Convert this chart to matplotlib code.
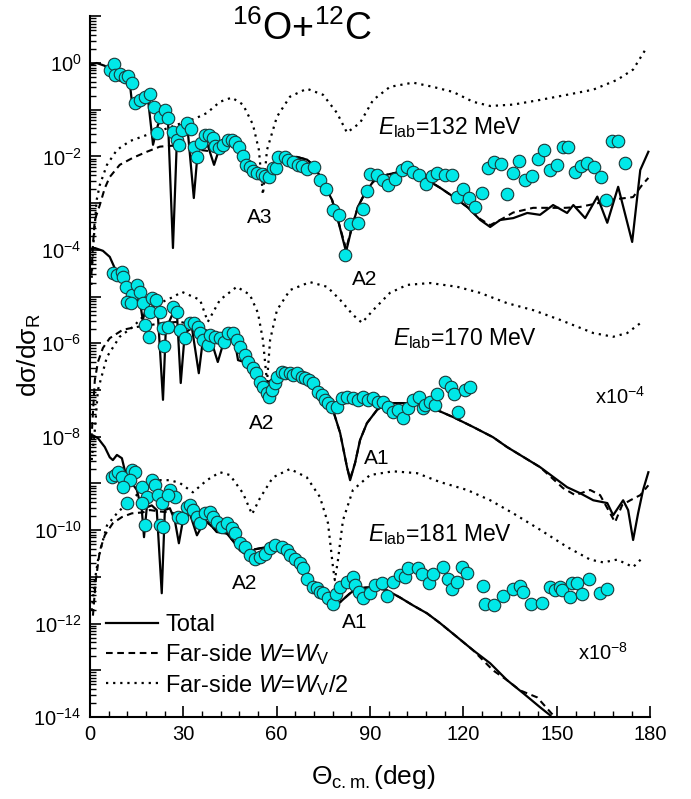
import numpy as np
import matplotlib
matplotlib.use('Agg')
import matplotlib.pyplot as plt
import matplotlib.ticker as mticker
import matplotlib.lines as mlines

plt.rcParams['font.family'] = ['Liberation Sans', 'DejaVu Sans']
plt.rcParams['mathtext.fontset'] = 'custom'
plt.rcParams['mathtext.rm'] = 'Liberation Sans'
plt.rcParams['mathtext.it'] = 'Liberation Sans:italic'
plt.rcParams['mathtext.bf'] = 'Liberation Sans:bold'

# all curves/points: theta (deg) and log10(dsigma/dsigma_R), before the x10^-4 / x10^-8 shift
# ---- E_lab = 132 MeV ----
th_tot_132 = [0.0, 2.2, 4.8, 9.0, 12.9, 13.5, 14.5, 16.1, 18.6, 20.3,
              21.9, 23.5, 25.1, 26.7, 28.0, 31.2, 33.4, 34.7, 37.0, 39.9,
              41.8, 44.4, 46.0, 49.2, 53.7, 55.3, 57.9, 61.1, 66.5, 69.8,
              72.3, 74.9, 77.8, 79.7, 82.3, 84.2, 86.1, 88.4, 91.0, 95.5,
              99.6, 103.8, 108.3, 112.5, 116.7, 121.2, 125.4, 128.6, 131.8, 136.0,
              140.5, 144.6, 148.8, 153.3, 155.3, 159.1, 163.0, 166.2, 169.7, 174.2,
              176.8, 179.4]
lg_tot_132 = [-0.04, 0.00, -0.06, -0.36, -0.46, -0.83, -0.92, -0.79, -0.72, -1.75,
              -1.32, -1.15, -1.22, -3.96, -1.58, -1.26, -2.89, -1.86, -1.58, -2.18,
              -1.79, -1.60, -1.64, -2.07, -2.33, -2.54, -2.24, -2.03, -2.01, -2.07,
              -2.22, -2.56, -2.93, -3.36, -4.04, -3.51, -3.08, -2.78, -2.54, -2.39,
              -2.33, -2.39, -2.50, -2.67, -2.86, -3.08, -3.36, -3.51, -3.36, -3.32,
              -3.21, -3.25, -3.04, -3.21, -3.04, -3.32, -2.86, -3.42, -2.65, -3.83,
              -2.29, -1.90]
th_fv_132 = [0.5, 1.0, 1.6, 3.2, 4.8, 6.4, 9.6, 13.8, 18.3, 22.5,
             26.4, 30.5, 35.4, 39.9, 44.4, 46.0, 49.2, 53.7, 55.3, 57.9,
             61.1, 66.5, 69.8, 72.3, 74.9, 77.8, 79.7, 82.3, 84.2, 86.1,
             88.4, 91.0, 95.5, 99.6, 103.8, 108.3, 112.5, 116.7, 121.2, 125.4,
             128.6, 131.8, 136.0, 142.4, 147.2, 152.7, 157.5, 163.9, 167.1, 174.5,
             177.4, 179.4]
lg_fv_132 = [-4.54, -3.89, -3.36, -3.04, -2.68, -2.44, -2.18, -2.03, -1.90, -1.79,
             -1.77, -1.82, -1.86, -1.90, -1.64, -1.64, -2.07, -2.33, -2.52, -2.24,
             -2.03, -2.01, -2.07, -2.22, -2.56, -2.93, -3.36, -3.98, -3.51, -3.08,
             -2.78, -2.54, -2.39, -2.33, -2.39, -2.50, -2.67, -2.86, -3.08, -3.34,
             -3.47, -3.36, -3.20, -3.10, -3.10, -3.10, -3.08, -2.99, -2.93, -2.87,
             -2.61, -2.46]
th_fv2_132 = [0.5, 1.0, 1.6, 2.2, 3.2, 5.5, 8.7, 12.9, 18.3, 23.5,
              28.9, 33.8, 37.6, 41.8, 45.6, 49.2, 52.4, 54.3, 55.6, 56.9,
              60.1, 64.3, 69.7, 74.9, 79.4, 82.6, 86.8, 91.0, 96.4, 103.8,
              110.2, 116.7, 123.1, 128.6, 136.0, 144.6, 153.3, 161.7, 169.4, 174.5,
              178.4]
lg_fv2_132 = [-4.75, -4.00, -3.46, -2.93, -2.61, -2.18, -1.86, -1.67, -1.54, -1.43,
              -1.30, -1.19, -1.07, -0.83, -0.74, -0.89, -1.32, -1.86, -2.82, -1.86,
              -1.15, -0.72, -0.55, -0.68, -1.07, -1.49, -1.28, -0.79, -0.51, -0.42,
              -0.51, -0.62, -0.83, -0.92, -0.89, -0.79, -0.68, -0.57, -0.36, -0.14,
              0.28]
th_exp_132 = [6.4, 7.7, 8.0, 9.6, 11.2, 12.2, 13.5, 14.5, 16.1, 17.7,
              19.3, 20.6, 21.5, 22.5, 24.1, 25.1, 26.7, 28.0, 28.6, 29.6,
              31.2, 32.5, 33.4, 34.4, 35.7, 37.0, 38.2, 39.5, 40.2, 41.5,
              42.7, 44.4, 45.6, 46.6, 47.9, 49.2, 50.1, 51.4, 52.4, 53.7,
              55.3, 56.2, 57.5, 58.8, 59.8, 60.4, 62.7, 63.6, 65.2, 66.9,
              68.1, 69.7, 72.0, 73.9, 75.8, 78.1, 80.0, 82.0, 83.6, 86.1,
              87.7, 89.0, 90.0, 92.2, 94.2, 95.8, 98.0, 100.3, 101.9, 103.8,
              105.7, 108.0, 109.9, 111.5, 114.1, 116.3, 118.0, 119.9, 121.8, 123.7,
              126.0, 127.9, 129.8, 132.1, 134.0, 136.0, 137.9, 139.8, 142.1, 144.0,
              145.9, 147.8, 150.1, 152.0, 153.6, 155.9, 157.8, 159.7, 162.0, 164.2,
              165.8, 167.8, 169.7, 171.9]
lg_exp_132 = [-0.14, -0.02, -0.25, -0.23, -0.29, -0.27, -0.42, -0.85, -0.79, -0.72,
              -0.66, -0.94, -1.50, -1.15, -1.00, -1.17, -1.47, -1.64, -1.75, -1.43,
              -1.28, -1.41, -1.79, -2.01, -1.71, -1.54, -1.54, -1.60, -1.77, -1.82,
              -1.75, -1.64, -1.64, -1.69, -1.79, -1.99, -2.18, -2.22, -2.31, -2.35,
              -2.37, -2.42, -2.44, -2.24, -2.24, -2.01, -2.01, -2.07, -2.12, -2.18,
              -2.20, -2.27, -2.22, -2.50, -2.69, -3.14, -3.25, -4.11, -3.44, -3.42,
              -3.12, -2.74, -2.37, -2.39, -2.50, -2.61, -2.48, -2.29, -2.22, -2.33,
              -2.39, -2.59, -2.42, -2.35, -2.39, -2.39, -2.87, -2.69, -2.89, -3.08,
              -2.78, -2.24, -2.12, -2.16, -2.80, -2.35, -2.10, -2.50, -2.42, -2.05,
              -1.86, -2.29, -2.18, -1.79, -1.79, -2.33, -2.20, -2.14, -2.22, -2.44,
              -2.93, -1.67, -1.67, -2.14]

# ---- E_lab = 170 MeV ----
th_tot_170 = [0.0, 1.6, 4.2, 6.4, 8.0, 10.3, 12.2, 13.8, 16.1, 17.0,
              18.6, 20.2, 21.9, 23.5, 24.4, 26.7, 28.0, 29.2, 30.5, 32.8,
              35.0, 36.3, 38.6, 41.1, 42.7, 45.0, 46.6, 47.6, 50.5, 52.4,
              55.3, 56.9, 58.5, 60.1, 62.0, 65.2, 68.5, 71.7, 74.9, 78.1,
              80.4, 82.6, 83.6, 85.2, 86.8, 89.0, 92.2, 95.5, 99.6, 105.1,
              110.2, 116.7, 123.1, 129.5, 134.0, 144.6, 153.3, 157.5, 161.7, 166.2,
              168.1, 171.3, 172.9, 174.5, 176.1, 177.7, 179.4]
lg_tot_170 = [0.02, 0.04, -0.02, -0.15, -0.39, -0.64, -0.86, -1.03, -1.11, -1.50,
              -1.11, -1.18, -1.44, -3.21, -1.71, -1.35, -1.39, -2.85, -1.78, -1.67,
              -2.64, -1.93, -1.86, -2.40, -2.04, -1.86, -1.97, -2.36, -2.42, -2.64,
              -2.79, -2.83, -2.79, -2.64, -2.57, -2.61, -2.64, -2.79, -3.15, -3.43,
              -3.92, -4.65, -4.93, -4.56, -4.07, -3.71, -3.43, -3.28, -3.28, -3.28,
              -3.39, -3.58, -3.79, -4.01, -4.22, -4.65, -5.08, -5.21, -5.36, -5.42,
              -5.68, -5.36, -5.57, -6.21, -5.64, -5.14, -4.76]
th_fv_170 = [0.5, 1.6, 2.6, 4.2, 6.4, 10.6, 15.1, 19.3, 24.1, 28.9,
             33.8, 38.6, 43.4, 46.6, 50.5, 52.4, 55.3, 56.9, 58.5, 60.1,
             62.0, 65.2, 68.5, 71.7, 74.9, 78.1, 80.4, 82.6, 83.6, 85.2,
             86.8, 89.0, 92.2, 95.5, 99.6, 105.1, 110.2, 116.7, 123.1, 129.5,
             134.0, 144.6, 152.0, 155.9, 160.7, 163.9, 168.7, 171.0, 173.6, 176.8,
             179.4]
lg_fv_170 = [-4.07, -2.79, -2.40, -2.10, -1.89, -1.71, -1.65, -1.61, -1.56, -1.54,
             -1.61, -1.76, -1.89, -2.04, -2.42, -2.64, -2.79, -2.83, -2.79, -2.64,
             -2.57, -2.61, -2.64, -2.79, -3.15, -3.43, -3.92, -4.65, -4.90, -4.56,
             -4.07, -3.71, -3.43, -3.28, -3.28, -3.28, -3.39, -3.58, -3.79, -4.01,
             -4.22, -4.65, -5.10, -5.25, -5.14, -5.25, -5.83, -5.46, -5.36, -5.25,
             -5.04]
th_fv2_170 = [0.6, 1.6, 2.6, 5.5, 9.6, 13.8, 18.3, 22.5, 26.7, 29.6,
              35.4, 37.9, 41.8, 47.2, 51.4, 54.0, 55.6, 56.9, 57.9, 60.1,
              64.3, 70.7, 76.2, 80.4, 84.5, 87.4, 91.0, 96.4, 101.9, 109.3,
              118.0, 125.3, 134.0, 142.4, 151.1, 161.7, 168.1, 172.6, 177.4]
lg_fv2_170 = [-4.50, -3.86, -3.00, -2.29, -1.86, -1.65, -1.35, -1.14, -1.01, -0.90,
              -1.07, -1.54, -1.07, -0.79, -0.96, -1.35, -1.93, -2.83, -1.93, -1.29,
              -0.86, -0.69, -0.79, -1.07, -1.39, -1.56, -1.29, -0.92, -0.75, -0.71,
              -0.79, -0.92, -1.14, -1.29, -1.50, -1.78, -1.86, -1.78, -1.54]
th_exp_170 = [7.4, 8.7, 10.3, 10.6, 11.6, 13.5, 15.1, 16.1, 11.9, 13.2,
              17.0, 19.9, 21.2, 19.3, 22.5, 17.7, 19.0, 23.5, 25.1, 26.7,
              28.0, 23.8, 28.9, 30.5, 32.1, 33.4, 34.7, 35.4, 36.3, 37.9,
              38.6, 40.2, 41.8, 43.1, 44.4, 46.0, 47.2, 48.2, 49.8, 50.8,
              52.4, 53.4, 54.6, 55.6, 56.9, 57.5, 58.5, 59.5, 60.1, 61.7,
              62.7, 64.3, 65.2, 66.5, 68.1, 69.1, 70.4, 71.7, 73.3, 74.6,
              75.5, 76.5, 77.8, 79.4, 81.0, 82.6, 84.5, 86.1, 87.7, 89.3,
              91.0, 92.6, 94.2, 95.8, 97.4, 99.0, 100.6, 102.2, 103.8, 105.7,
              107.0, 107.7, 109.3, 110.9, 111.5, 114.1, 116.0, 117.0, 118.3, 120.5,
              122.1]
lg_exp_170 = [-0.49, -0.54, -0.47, -0.58, -0.79, -0.96, -0.75, -0.90, -1.11, -1.14,
              -1.14, -1.03, -1.07, -1.33, -1.33, -1.61, -1.86, -1.67, -1.65, -1.22,
              -1.33, -2.06, -1.71, -1.89, -1.56, -1.56, -1.65, -1.78, -1.93, -2.04,
              -1.82, -1.86, -1.89, -1.97, -1.78, -1.78, -1.93, -2.08, -2.25, -2.40,
              -2.53, -2.64, -2.83, -2.94, -3.06, -3.15, -3.00, -2.85, -2.72, -2.61,
              -2.64, -2.64, -2.68, -2.64, -2.72, -2.74, -2.79, -2.85, -3.04, -3.11,
              -3.21, -3.28, -3.36, -3.36, -3.17, -3.15, -3.17, -3.21, -3.15, -3.21,
              -3.17, -3.26, -3.26, -3.36, -3.47, -3.43, -3.60, -3.39, -3.21, -3.15,
              -3.39, -3.32, -3.26, -3.32, -3.09, -2.83, -2.94, -3.09, -3.47, -3.00,
              -2.94]

# ---- E_lab = 181 MeV ----
th_tot_181 = [0.0, 1.0, 2.6, 4.8, 6.4, 7.4, 8.7, 10.3, 11.2, 13.5,
              15.1, 16.7, 17.4, 18.3, 19.9, 21.5, 23.1, 24.1, 25.7, 27.3,
              28.6, 29.9, 32.1, 34.4, 37.0, 39.5, 40.8, 44.0, 46.6, 48.2,
              50.5, 53.0, 56.9, 60.1, 63.3, 66.5, 69.7, 73.0, 76.2, 78.1,
              80.4, 83.6, 86.1, 91.0, 95.5, 99.6, 103.8, 108.3, 112.5, 118.0,
              123.1, 128.6, 134.0, 139.2, 144.6, 147.8, 149.5]
lg_tot_181 = [0.01, 0.03, -0.03, -0.22, -0.44, -0.50, -0.39, -0.46, -0.71, -0.99,
              -1.14, -1.57, -2.15, -1.51, -1.47, -1.57, -3.35, -1.57, -1.53, -1.79,
              -2.28, -1.79, -1.64, -2.11, -1.79, -1.94, -2.04, -2.07, -2.28, -2.43,
              -2.54, -2.41, -2.36, -2.32, -2.39, -2.58, -2.92, -3.22, -3.46, -3.65,
              -3.54, -3.35, -3.24, -3.22, -3.29, -3.44, -3.61, -3.78, -3.99, -4.29,
              -4.57, -4.85, -5.21, -5.49, -5.79, -5.96, -6.11]
th_fv_181 = [1.0, 1.9, 3.2, 4.8, 7.4, 10.3, 13.5, 17.0, 19.3, 22.5,
             25.7, 29.9, 33.8, 37.0, 39.5, 40.8, 44.0, 46.6, 48.2, 50.5,
             53.0, 56.9, 60.1, 63.3, 66.5, 69.7, 73.0, 76.2, 78.1, 80.4,
             83.6, 86.1, 91.0, 95.5, 99.6, 103.8, 108.3, 112.5, 118.0, 123.1,
             129.5, 134.0, 138.2, 143.7, 148.8]
lg_fv_181 = [-3.83, -3.08, -2.44, -2.11, -1.85, -1.72, -1.64, -1.62, -1.57, -1.60,
             -1.62, -1.68, -1.75, -1.79, -1.94, -2.04, -2.07, -2.28, -2.43, -2.54,
             -2.41, -2.36, -2.32, -2.39, -2.58, -2.92, -3.22, -3.46, -3.65, -3.54,
             -3.35, -3.24, -3.22, -3.29, -3.44, -3.61, -3.78, -3.99, -4.29, -4.57,
             -5.00, -5.21, -5.43, -5.58, -5.96]
th_fv2_181 = [0.6, 1.6, 2.6, 4.2, 5.5, 8.7, 12.9, 18.3, 22.5, 25.7,
              28.9, 33.1, 37.6, 41.8, 45.0, 49.2, 52.1, 54.6, 58.8, 64.3,
              69.7, 73.9, 76.5, 78.1, 78.7, 79.7, 81.3, 84.5, 90.0, 97.4,
              105.1, 112.5, 121.2, 128.6, 136.0, 144.6, 153.3, 160.7, 164.9, 169.4,
              174.5, 177.4]
lg_fv2_181 = [-3.72, -3.08, -2.65, -2.22, -1.90, -1.64, -1.36, -1.08, -0.93, -0.93,
              -0.99, -1.19, -0.93, -0.76, -0.82, -1.21, -1.66, -1.32, -0.87, -0.69,
              -0.87, -1.29, -1.85, -2.79, -3.07, -2.64, -1.79, -1.14, -0.82, -0.74,
              -0.78, -0.97, -1.14, -1.36, -1.64, -1.99, -2.36, -2.63, -2.69, -2.63,
              -2.79, -2.60]
th_exp_181 = [7.1, 8.0, 9.0, 10.3, 13.5, 14.5, 12.9, 10.6, 11.9, 16.7,
              18.3, 19.9, 20.9, 21.9, 23.1, 16.7, 17.7, 22.5, 23.5, 25.7,
              27.3, 25.1, 28.3, 29.6, 31.2, 32.1, 33.1, 34.4, 35.4, 37.0,
              38.6, 39.5, 40.8, 42.4, 44.0, 45.6, 46.6, 48.2, 49.8, 51.4,
              53.0, 54.6, 56.2, 57.9, 59.5, 61.7, 63.3, 64.3, 65.9, 67.5,
              68.5, 69.7, 71.7, 73.0, 73.9, 74.9, 76.5, 78.1, 79.1, 80.4,
              82.6, 84.5, 85.2, 86.5, 87.7, 90.0, 91.6, 93.8, 95.5, 97.4,
              99.6, 101.2, 102.2, 105.4, 106.7, 109.0, 110.2, 113.5, 115.1, 116.3,
              118.0, 119.6, 121.2, 126.3, 127.0, 129.8, 132.7, 136.0, 138.2, 139.2,
              141.7, 145.3, 147.8, 149.5, 151.1, 151.7, 154.3, 154.9, 156.5, 158.1,
              160.4, 163.9, 166.2]
lg_exp_181 = [-0.87, -0.82, -0.76, -0.87, -0.72, -0.76, -0.93, -1.08, -1.42, -1.08,
              -1.29, -0.93, -1.04, -1.25, -1.42, -1.42, -1.89, -1.89, -1.94, -1.15,
              -1.29, -1.25, -1.72, -1.74, -1.51, -1.47, -1.57, -1.72, -1.85, -1.64,
              -1.62, -1.72, -1.83, -1.94, -1.85, -1.96, -2.07, -2.27, -2.37, -2.54,
              -2.61, -2.58, -2.52, -2.39, -2.32, -2.35, -2.43, -2.54, -2.61, -2.71,
              -2.82, -3.05, -3.22, -3.24, -3.33, -3.35, -3.46, -3.57, -3.37, -3.22,
              -3.12, -3.01, -3.18, -3.33, -3.46, -3.35, -3.18, -3.14, -3.40, -3.12,
              -2.97, -3.01, -2.80, -2.80, -2.93, -3.14, -2.93, -2.78, -3.05, -3.27,
              -3.12, -2.78, -2.91, -3.20, -3.57, -3.61, -3.42, -3.25, -3.20, -3.33,
              -3.57, -3.55, -3.22, -3.29, -3.22, -3.29, -3.44, -3.14, -3.14, -3.37,
              -3.05, -3.35, -3.25]

energies = ['132', '170', '181']
scales = [1.0, 1e-4, 1e-8]

CYAN = '#00e8e8'


def draw_energy(ax, th_t, lg_t, th_v, lg_v, th_v2, lg_v2, th_e, lg_e, scale):
    val = lambda lg: scale * 10.0 ** np.asarray(lg)
    ax.plot(th_v2, val(lg_v2), color='k', lw=1.6, ls=(0, (1.0, 2.2)), zorder=2)
    ax.plot(th_v, val(lg_v), color='k', lw=1.5, ls=(0, (3.2, 2.2)), zorder=2)
    ax.plot(th_t, val(lg_t), color='k', lw=1.6, zorder=3)
    ax.plot(th_e, val(lg_e), ls='none', marker='o', ms=9, mfc=CYAN,
            mec='#1a3a3a', mew=0.8, zorder=4)


fig = plt.figure(figsize=(6.91, 7.99), dpi=100)
ax = fig.add_axes([0.130, 0.1026, 0.811, 0.877])

draw_energy(ax, th_tot_132, lg_tot_132, th_fv_132, lg_fv_132,
            th_fv2_132, lg_fv2_132, th_exp_132, lg_exp_132, scales[0])
draw_energy(ax, th_tot_170, lg_tot_170, th_fv_170, lg_fv_170,
            th_fv2_170, lg_fv2_170, th_exp_170, lg_exp_170, scales[1])
draw_energy(ax, th_tot_181, lg_tot_181, th_fv_181, lg_fv_181,
            th_fv2_181, lg_fv2_181, th_exp_181, lg_exp_181, scales[2])

ax.set_yscale('log')
ax.set_xlim(0, 180)
ax.set_ylim(1e-14, 1e1)
ax.xaxis.set_major_locator(mticker.MultipleLocator(30))
ax.xaxis.set_minor_locator(mticker.MultipleLocator(6))
ax.yaxis.set_major_locator(mticker.FixedLocator(10.0 ** np.arange(-14, 2)))
ax.yaxis.set_minor_locator(mticker.LogLocator(base=10, subs=np.arange(2, 10), numticks=200))
ax.yaxis.set_minor_formatter(mticker.NullFormatter())


def yfmt(v, pos):
    e = int(round(np.log10(v)))
    return r'$10^{%d}$' % e if e % 2 == 0 else ''


ax.yaxis.set_major_formatter(mticker.FuncFormatter(yfmt))
ax.tick_params(which='major', direction='in', length=8, width=1.2, labelsize=14.5, pad=6)
ax.tick_params(which='minor', direction='in', length=4, width=1.0)
for s in ['top', 'right']:
    ax.spines[s].set_visible(False)
for s in ['left', 'bottom']:
    ax.spines[s].set_linewidth(1.5)

# labels
ax.text(68, 10 ** 0.72, r'$^{16}$O+$^{12}$C', fontsize=27, ha='center', va='center')
fig.text(0.042, 0.556, r'dσ/dσ$_\mathrm{R}$', fontsize=19, rotation=90, ha='center', va='center')
fig.text(0.54, 0.027, r'Θ$_\mathrm{c.m.}$(deg)', fontsize=19, ha='center', va='center')

ax.text(92.6, 10 ** -1.39, r'$E_\mathrm{lab}$=132 MeV', fontsize=16.5, va='center')
ax.text(97.4, 10 ** -5.89, r'$E_\mathrm{lab}$=170 MeV', fontsize=16.5, va='center')
ax.text(89.4, 10 ** -10.1, r'$E_\mathrm{lab}$=181 MeV', fontsize=16.5, va='center')

for th, lg, s in [(54.6, -3.30, 'A3'), (88.4, -4.64, 'A2'), (55.3, -7.71, 'A2'),
                  (92.2, -8.46, 'A1'), (49.8, -11.14, 'A2'), (85.2, -11.97, 'A1')]:
    ax.text(th, 10 ** lg, s, fontsize=15, ha='center', va='center')

ax.text(162.3, 10 ** -7.15, r'x10$^{-4}$', fontsize=14.5, va='center')
ax.text(156.9, 10 ** -12.62, r'x10$^{-8}$', fontsize=14.5, va='center')

handles = [mlines.Line2D([], [], color='k', lw=1.6),
           mlines.Line2D([], [], color='k', lw=1.5, ls=(0, (3.2, 2.2))),
           mlines.Line2D([], [], color='k', lw=1.6, ls=(0, (1.0, 2.2)))]
labels = ['Total', r'Far-side $W$=$W_\mathrm{V}$', r'Far-side $W$=$W_\mathrm{V}$/2']
ax.legend(handles, labels, loc='upper left', bbox_to_anchor=(0.029, 0.147),
          frameon=False, fontsize=17, handlelength=2.2, handletextpad=0.3,
          labelspacing=0.25, borderpad=0, borderaxespad=0)

fig.savefig('out.png', dpi=100)
